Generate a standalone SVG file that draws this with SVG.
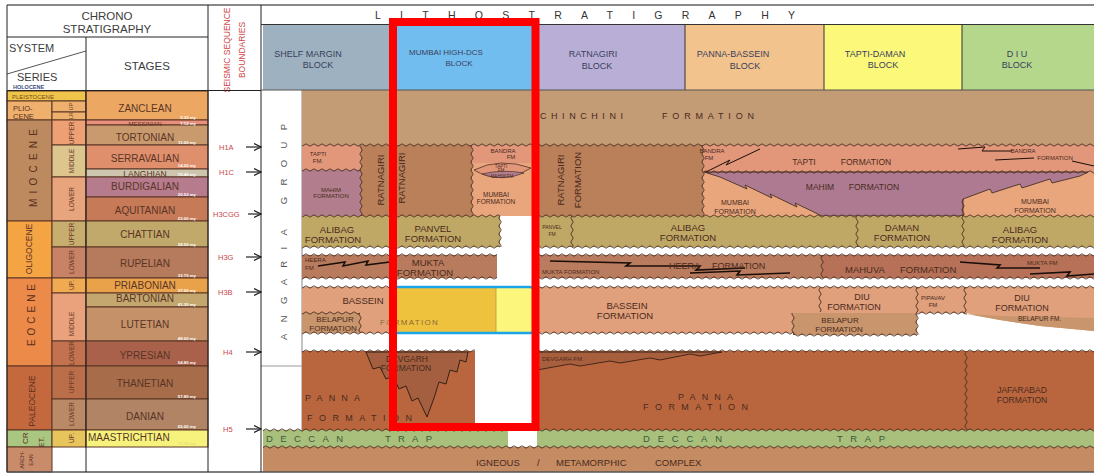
<svg xmlns="http://www.w3.org/2000/svg" width="1094" height="473" viewBox="0 0 1094 473">
<defs>
<style>
text{font-family:"Liberation Sans",Arial,sans-serif}
.hd{font-size:11.5px;fill:#3c3c3c;text-anchor:middle}
.se{font-size:6.5px;fill:#6b3c2a;text-anchor:middle}
.sy{font-size:9px;fill:#5a3020}
.stg{font-size:10px;fill:#5a3526;text-anchor:middle}
.age{font-size:4.3px;fill:#fff;text-anchor:end;font-weight:bold}
.sq{font-size:7.5px;fill:#c8474a}
.bh{font-size:9px;fill:#39405a;text-anchor:middle}
.fm{font-size:9.5px;fill:#4a2a1c;text-anchor:middle}
.fs{font-size:6px;fill:#4a2a1c;text-anchor:middle}
.ft{font-size:4.5px;fill:#4a2a1c;text-anchor:middle}
.sp{font-size:9px;fill:#4a2a1c}
.dc{font-size:9.5px;fill:#3b5a38}
.zz{fill:none;stroke:#1a0e08;stroke-width:1.6}
.cl{stroke:#5a3424;stroke-width:1}
.ln{stroke:#222;stroke-width:1}
.ar{stroke:#222;stroke-width:1.2;marker-end:url(#ar)}
</style>
<pattern id="wh" width="8" height="6" patternUnits="userSpaceOnUse"><path d="M0 3Q2 0.6 4 3T8 3" fill="none" stroke="#4a2e20" stroke-width="0.9"/></pattern>
<pattern id="wv" width="6" height="8" patternUnits="userSpaceOnUse"><path d="M3 0Q0.6 2 3 4T3 8" fill="none" stroke="#4a2e20" stroke-width="0.9"/></pattern>
<marker id="ar" markerWidth="8" markerHeight="8" refX="7" refY="4" orient="auto" markerUnits="userSpaceOnUse"><path d="M0 0.5L7 4L0 7.5" fill="none" stroke="#222" stroke-width="1.2"/></marker>
</defs>
<rect width="1094" height="473" fill="#fff"/>

<g id="chrono">
<text class="hd" x="107" y="20">CHRONO</text>
<text class="hd" x="107" y="33">STRATIGRAPHY</text>
<text x="9" y="52" style="font-size:11px;fill:#3c3c3c">SYSTEM</text>
<line x1="7" y1="74" x2="86" y2="51" stroke="#555"/>
<text x="17" y="81" style="font-size:11px;fill:#3c3c3c">SERIES</text>
<text x="13" y="89" style="font-size:5.5px;fill:#3a4a7a;font-weight:bold">HOLOCENE</text>
<text class="hd" x="147" y="70">STAGES</text>
<rect class="cl" x="7" y="91" width="79" height="10" fill="#efc44a"/>
<text x="12" y="98.5" style="font-size:6px;fill:#7a4a1a">PLEISTOCENE</text>
<rect class="cl" x="7" y="101" width="45" height="19" fill="#efb06e"/>
<text class="sy" x="13" y="111" style="font-size:7.5px">PLIO-</text>
<text class="sy" x="13" y="119" style="font-size:7.5px">CENE</text>
<rect class="cl" x="52" y="101" width="34" height="11" fill="#efb06e"/>
<rect class="cl" x="52" y="112" width="34" height="8" fill="#efb06e"/>
<text class="se" transform="translate(73,111) rotate(-90)" style="font-size:5.5px">LR  UP</text>
<rect class="cl" x="7" y="120" width="45" height="101" fill="#bc8a5e"/>
<text class="sy" transform="translate(37,207) rotate(-90)" textLength="78" lengthAdjust="spacing" style="font-size:10px">MIOCENE</text>
<rect class="cl" x="52" y="120" width="34" height="25" fill="#eca074"/>
<rect class="cl" x="52" y="145" width="34" height="32" fill="#dcc68e"/>
<rect class="cl" x="52" y="177" width="34" height="44" fill="#e8a47c"/>
<rect class="cl" x="7" y="221" width="45" height="57" fill="#f4a443"/>
<text class="sy" transform="translate(32,249) rotate(-90)" style="font-size:8.5px;text-anchor:middle">OLIGOCENE</text>
<rect class="cl" x="52" y="221" width="34" height="26" fill="#c7ad6e"/>
<rect class="cl" x="52" y="247" width="34" height="31" fill="#c88266"/>
<rect class="cl" x="7" y="278" width="45" height="88" fill="#ec8a4a"/>
<text class="sy" transform="translate(35,346) rotate(-90)" textLength="62" lengthAdjust="spacing" style="font-size:10px">EOCENE</text>
<rect class="cl" x="52" y="278" width="34" height="15" fill="#f0aa52"/>
<rect class="cl" x="52" y="293" width="34" height="48" fill="#e9a27c"/>
<rect class="cl" x="52" y="341" width="34" height="25" fill="#c2724f"/>
<rect class="cl" x="7" y="366" width="45" height="64" fill="#c4693d"/>
<text class="sy" transform="translate(35,401) rotate(-90)" style="font-size:8.5px;text-anchor:middle">PALEOCENE</text>
<rect class="cl" x="52" y="366" width="34" height="33" fill="#bb6e4a"/>
<rect class="cl" x="52" y="399" width="34" height="31" fill="#ba8a66"/>
<rect class="cl" x="7" y="430" width="45" height="17" fill="#aac781"/>
<text class="sy" transform="translate(28,444) rotate(-90)" style="font-size:8px">CR</text>
<text class="sy" transform="translate(44,447) rotate(-90)" style="font-size:7px">ET.</text>
<rect class="cl" x="52" y="430" width="34" height="17" fill="#e7c45c"/>
<rect class="cl" x="7" y="447" width="45" height="25" fill="#c98c6b"/>
<text class="sy" transform="translate(24,460) rotate(-90)" style="font-size:5.5px;text-anchor:middle">ARCH-</text>
<text class="sy" transform="translate(33,460) rotate(-90)" style="font-size:5.5px;text-anchor:middle">EAN</text>
<text class="se" transform="translate(74,133) rotate(-90)">UPPER</text>
<text class="se" transform="translate(74,161) rotate(-90)">MIDDLE</text>
<text class="se" transform="translate(74,199) rotate(-90)">LOWER</text>
<text class="se" transform="translate(74,234) rotate(-90)">UPPER</text>
<text class="se" transform="translate(74,262) rotate(-90)">LOWER</text>
<text class="se" transform="translate(74,285) rotate(-90)">UP.</text>
<text class="se" transform="translate(74,324) rotate(-90)">MIDDLE</text>
<text class="se" transform="translate(74,353) rotate(-90)">LOWER</text>
<text class="se" transform="translate(74,382) rotate(-90)">UPPER</text>
<text class="se" transform="translate(74,414) rotate(-90)">LOWER</text>
<text class="se" transform="translate(74,438) rotate(-90)">UP.</text>
<rect class="cl" x="86" y="91" width="122" height="29" fill="#eca763"/>
<rect class="cl" x="86" y="120" width="122" height="5" fill="#e98f7b"/>
<rect class="cl" x="86" y="125" width="122" height="20" fill="#c99a6e"/>
<rect class="cl" x="86" y="145" width="122" height="24" fill="#df8f6c"/>
<rect class="cl" x="86" y="169" width="122" height="8" fill="#cdc5ad"/>
<rect class="cl" x="86" y="177" width="122" height="20" fill="#b67b8c"/>
<rect class="cl" x="86" y="197" width="122" height="24" fill="#c67a58"/>
<rect class="cl" x="86" y="221" width="122" height="26" fill="#c0a96a"/>
<rect class="cl" x="86" y="247" width="122" height="31" fill="#b67a5c"/>
<rect class="cl" x="86" y="278" width="122" height="15" fill="#e9a24a"/>
<rect class="cl" x="86" y="293" width="122" height="14" fill="#c4a76e"/>
<rect class="cl" x="86" y="307" width="122" height="34" fill="#c49169"/>
<rect class="cl" x="86" y="341" width="122" height="25" fill="#a9614b"/>
<rect class="cl" x="86" y="366" width="122" height="33" fill="#a76c4a"/>
<rect class="cl" x="86" y="399" width="122" height="31" fill="#b08464"/>
<rect class="cl" x="86" y="430" width="122" height="17" fill="#f6f27c"/>
<text class="stg" x="145" y="111.5">ZANCLEAN</text>
<text class="stg" x="145" y="125.5" style="font-size:6px">MESSINIAN</text>
<text class="stg" x="145" y="140.5">TORTONIAN</text>
<text class="stg" x="145" y="161.5">SERRAVALIAN</text>
<text class="stg" x="145" y="177" style="font-size:8.5px">LANGHIAN</text>
<text class="stg" x="145" y="190">BURDIGALIAN</text>
<text class="stg" x="145" y="214">AQUITANIAN</text>
<text class="stg" x="145" y="237.5">CHATTIAN</text>
<text class="stg" x="145" y="266.5">RUPELIAN</text>
<text class="stg" x="145" y="288.5">PRIABONIAN</text>
<text class="stg" x="145" y="301.5">BARTONIAN</text>
<text class="stg" x="145" y="327.5">LUTETIAN</text>
<text class="stg" x="145" y="358.5">YPRESIAN</text>
<text class="stg" x="145" y="386.5">THANETIAN</text>
<text class="stg" x="145" y="420">DANIAN</text>
<text class="stg" x="88" y="441" style="text-anchor:start">MAASTRICHTIAN</text>
<text class="age" x="196" y="118.5">5.32 my</text>
<text class="age" x="196" y="124.5">7.12 my</text>
<text class="age" x="196" y="144">11.00 my</text>
<text class="age" x="196" y="167">14.00 my</text>
<text class="age" x="196" y="176">15.40 my</text>
<text class="age" x="196" y="196">20.52 my</text>
<text class="age" x="196" y="220">23.00 my</text>
<text class="age" x="196" y="246">28.50 my</text>
<text class="age" x="196" y="277">33.70 my</text>
<text class="age" x="196" y="292">37.00 my</text>
<text class="age" x="196" y="306">41.30 my</text>
<text class="age" x="196" y="340">48.00 my</text>
<text class="age" x="196" y="364">54.80 my</text>
<text class="age" x="196" y="398">57.80 my</text>
<text class="age" x="196" y="428">65.00 my</text>
<text class="age" x="196" y="445" style="fill:#e8e070">71.30 my</text>
</g>

<g id="seismic">
<text transform="translate(230,50) rotate(-90)" style="font-size:8.5px;fill:#d04545;text-anchor:middle">SEISMIC SEQUENCE</text>
<text transform="translate(245,50) rotate(-90)" style="font-size:8.5px;fill:#d04545;text-anchor:middle">BOUNDARIES</text>
<text class="sq" x="219" y="150">H1A</text>
<text class="sq" x="219" y="175">H1C</text>
<text class="sq" x="213" y="217">H3CGG</text>
<text class="sq" x="218" y="260">H3G</text>
<text class="sq" x="218" y="295">H3B</text>
<text class="sq" x="223" y="355">H4</text>
<text class="sq" x="223" y="432">H5</text>
</g>

<g id="connectors">
<line class="ar" x1="246" y1="147" x2="261" y2="147"/>
<line class="ar" x1="246" y1="172" x2="261" y2="172"/>
<line class="ar" x1="248" y1="214" x2="261" y2="214"/>
<line class="ar" x1="246" y1="257" x2="261" y2="257"/>
<line class="ar" x1="246" y1="292" x2="261" y2="292"/>
<line class="ar" x1="246" y1="352" x2="261" y2="352"/>
<line class="ar" x1="246" y1="429" x2="261" y2="429"/>
</g>

<g id="litho-header">
<text x="375" y="19" textLength="420" lengthAdjust="spacing" style="font-size:10.5px;fill:#333">LITHOSTRATIGRAPHY</text>
<rect x="263" y="25" width="134" height="65" fill="#9eb1c0"/>
<rect x="390" y="25" width="145" height="65" fill="#72bdf0"/>
<rect x="535" y="25" width="150" height="65" fill="#b9afd6"/>
<rect x="685" y="25" width="139" height="65" fill="#f3c38d"/>
<rect x="824" y="25" width="138" height="65" fill="#fbf87a"/>
<rect x="962" y="25" width="132" height="65" fill="#b4d78c"/>
<line x1="685" y1="25" x2="685" y2="90" stroke="#333"/>
<line x1="824" y1="25" x2="824" y2="90" stroke="#333"/>
<line x1="962" y1="25" x2="962" y2="90" stroke="#333"/>
<text class="bh" x="308" y="57">SHELF  MARGIN</text>
<text class="bh" x="318" y="68">BLOCK</text>
<text class="bh" x="446" y="55" style="font-size:8px">MUMBAI HIGH-DCS</text>
<text class="bh" x="459" y="66" style="font-size:8px">BLOCK</text>
<text class="bh" x="593" y="57">RATNAGIRI</text>
<text class="bh" x="597" y="69">BLOCK</text>
<text class="bh" x="733" y="57">PANNA-BASSEIN</text>
<text class="bh" x="745" y="69">BLOCK</text>
<text class="bh" x="875" y="57">TAPTI-DAMAN</text>
<text class="bh" x="883" y="68">BLOCK</text>
<text class="bh" x="1017" y="57">D I U</text>
<text class="bh" x="1017" y="68">BLOCK</text>
</g>

<g id="angaria">
<rect x="263" y="90" width="39" height="340" fill="#fff"/>
<line x1="302" y1="90" x2="302" y2="430" stroke="#888"/>
<line x1="261" y1="366" x2="302" y2="366" stroke="#999"/>
<text transform="translate(287,340) rotate(-90)" textLength="216" lengthAdjust="spacing" style="font-size:9.5px;fill:#555">ANGARIA GROUP</text>
</g>

<g id="formations">
<rect x="302" y="90" width="792" height="55" fill="#c39b75"/>
<rect x="302" y="145" width="59" height="25" fill="#e2977b"/>
<rect x="302" y="170" width="59" height="46" fill="#b27e8e"/>
<rect x="361" y="145" width="111" height="71" fill="#b9805a"/>
<rect x="472" y="145" width="65" height="71" fill="#e9a67c"/>
<rect x="472" y="145" width="65" height="18" fill="#e2977b"/>
<rect x="537" y="145" width="166" height="71" fill="#b9805a"/>
<rect x="703" y="145" width="391" height="27" fill="#e2977b"/>
<rect x="703" y="172" width="391" height="44" fill="#e9a67c"/>
<path d="M704,172 L1088,172 L1080,176 L1052,183 L1050,179 L1022,188 L1020,184 L992,193 L990,189 L963,199 L963,216 L822,216 L795,203 L797,207 L770,194 L772,198 L745,185 L747,189 L720,177 Z" fill="#ad7a92" stroke="#3a2418" stroke-width="0.8"/>
<path d="M474,170 Q500,157 531,168 Q500,186 474,170 Z" fill="#e2977b" stroke="#3a2418" stroke-width="0.7"/>
<path d="M482,174 Q502,169 524,173 Q502,182 482,174 Z" fill="#b27e8e" stroke="#3a2418" stroke-width="0.6"/>
<rect x="302" y="216" width="198" height="31" fill="#bfa866"/>
<rect x="537" y="216" width="557" height="31" fill="#bfa866"/>
<rect x="302" y="255" width="195" height="23" fill="#b97b5d"/>
<rect x="537" y="255" width="285" height="23" fill="#ba7c5f"/>
<rect x="822" y="255" width="272" height="23" fill="#b67158"/>
<rect x="302" y="287" width="91" height="46" fill="#e0a07c"/>
<rect x="537" y="287" width="557" height="46" fill="#e0a07c"/>
<rect x="302" y="313" width="58" height="20" fill="#c8956d"/>
<path d="M917,313 L966,313 L1000,320 L1040,326 L1094,331 L1094,351 L917,351 Z" fill="#fff"/>
<rect x="793" y="313" width="124" height="22" fill="#c8956d"/>
<path d="M966,314 L1000,316 L1094,318 L1094,331 L1040,326 L1000,320 Z" fill="#c8956d"/>
<rect x="302" y="351" width="173" height="79" fill="#b9663f"/>
<rect x="537" y="351" width="557" height="79" fill="#b9663f"/>
<path d="M366,352 L468,352 L466,362 L460,360 L457,372 L450,370 L446,384 L439,382 L434,398 L427,417 L418,398 L412,401 L406,386 L399,389 L393,376 L386,379 L380,367 L373,369 Z" fill="#a35f40" stroke="#2a1810" stroke-width="0.9"/>
<path d="M537,352 L722,352 L700,356 L690,354 L660,360 L650,358 L620,363 L610,361 L580,366 L570,364 L537,370 Z" fill="#a85f3e" stroke="#2a1810" stroke-width="0.8"/>
<rect x="263" y="430" width="245" height="17" fill="#a8c07c"/>
<rect x="537" y="430" width="557" height="17" fill="#a8c07c"/>
<rect x="263" y="447" width="831" height="25" fill="#c58b63"/>

<rect x="302" y="0" width="792" height="6" fill="url(#wh)" transform="translate(0,142)"/>
<rect x="302" y="0" width="59" height="6" fill="url(#wh)" transform="translate(0,167)"/>
<rect x="703" y="0" width="391" height="6" fill="url(#wh)" transform="translate(0,169)"/>
<rect x="302" y="0" width="198" height="6" fill="url(#wh)" transform="translate(0,213)"/>
<rect x="537" y="0" width="557" height="6" fill="url(#wh)" transform="translate(0,213)"/>
<rect x="302" y="0" width="198" height="6" fill="url(#wh)" transform="translate(0,244)"/>
<rect x="537" y="0" width="557" height="6" fill="url(#wh)" transform="translate(0,244)"/>
<rect x="302" y="0" width="195" height="6" fill="url(#wh)" transform="translate(0,252)"/>
<rect x="537" y="0" width="557" height="6" fill="url(#wh)" transform="translate(0,252)"/>
<rect x="302" y="0" width="195" height="6" fill="url(#wh)" transform="translate(0,275)"/>
<rect x="537" y="0" width="557" height="6" fill="url(#wh)" transform="translate(0,275)"/>
<rect x="302" y="0" width="91" height="6" fill="url(#wh)" transform="translate(0,284)"/>
<rect x="537" y="0" width="557" height="6" fill="url(#wh)" transform="translate(0,284)"/>
<rect x="302" y="0" width="58" height="6" fill="url(#wh)" transform="translate(0,310)"/>
<rect x="302" y="0" width="91" height="6" fill="url(#wh)" transform="translate(0,330)"/>
<rect x="537" y="0" width="256" height="6" fill="url(#wh)" transform="translate(0,330)"/>
<rect x="793" y="0" width="124" height="6" fill="url(#wh)" transform="translate(0,332)"/>
<rect x="917" y="0" width="50" height="6" fill="url(#wh)" transform="translate(0,310)"/>
<rect x="302" y="0" width="173" height="6" fill="url(#wh)" transform="translate(0,348)"/>
<rect x="537" y="0" width="557" height="6" fill="url(#wh)" transform="translate(0,348)"/>
<rect x="263" y="0" width="245" height="6" fill="url(#wh)" transform="translate(0,427)"/>
<rect x="537" y="0" width="557" height="6" fill="url(#wh)" transform="translate(0,427)"/>
<rect x="263" y="0" width="831" height="6" fill="url(#wh)" transform="translate(0,444)"/>
<rect x="0" y="145" width="6" height="71" fill="url(#wv)" transform="translate(358,0)"/>
<rect x="0" y="145" width="6" height="71" fill="url(#wv)" transform="translate(469,0)"/>
<rect x="0" y="145" width="6" height="71" fill="url(#wv)" transform="translate(700,0)"/>
<rect x="0" y="216" width="6" height="31" fill="url(#wv)" transform="translate(497,0)"/>
<rect x="0" y="216" width="6" height="31" fill="url(#wv)" transform="translate(569,0)"/>
<rect x="0" y="216" width="6" height="31" fill="url(#wv)" transform="translate(854,0)"/>
<rect x="0" y="199" width="6" height="48" fill="url(#wv)" transform="translate(960,0)"/>
<rect x="0" y="255" width="6" height="23" fill="url(#wv)" transform="translate(819,0)"/>
<rect x="0" y="287" width="6" height="25" fill="url(#wv)" transform="translate(817,0)"/>
<rect x="0" y="287" width="6" height="26" fill="url(#wv)" transform="translate(914,0)"/>
<rect x="0" y="313" width="6" height="22" fill="url(#wv)" transform="translate(914,0)"/>
<rect x="0" y="313" width="6" height="22" fill="url(#wv)" transform="translate(790,0)"/>
<rect x="0" y="287" width="6" height="27" fill="url(#wv)" transform="translate(962,0)"/>
<rect x="0" y="313" width="6" height="20" fill="url(#wv)" transform="translate(357,0)"/>
<rect x="0" y="353" width="6" height="77" fill="url(#wv)" transform="translate(963,0)"/>
<path class="zz" d="M318,266 L345,262 L343,266 L368,261 L366,265 L390,262"/>
<path class="zz" d="M550,261 L630,263 L626,266 L700,266 L696,270 L745,268"/>
<path class="zz" d="M690,273 L740,271 L737,275 L790,273"/>
<path class="zz" d="M960,262 L1000,265 L997,268 L1040,268 M1030,274 L1070,272 L1067,276 L1094,274"/>
<path class="zz" d="M706,172 L730,160 L726,165 L760,149" style="stroke-width:1"/>
<path class="zz" d="M958,149 L985,147 L982,151 L1012,151 M995,160 L1034,158 M1072,161 L1094,166" style="stroke-width:1"/>

<text class="sp" x="540" y="119" textLength="83" lengthAdjust="spacing">CHINCHINI</text>
<text class="sp" x="662" y="119" textLength="92" lengthAdjust="spacing">FORMATION</text>
<text class="fs" x="318" y="156">TAPTI</text>
<text class="fs" x="318" y="163">FM.</text>
<text class="fs" x="331" y="192">MAHIM</text>
<text class="fs" x="331" y="198">FORMATION</text>
<text class="fm" transform="translate(384,180) rotate(-90)">RATNAGIRI</text>
<text class="fm" transform="translate(405,178) rotate(-90)">RATNAGIRI</text>
<text class="fs" x="503" y="153">BANDRA</text>
<text class="fs" x="511" y="159">FM</text>
<text class="ft" x="501" y="168">TAPTI</text>
<text class="ft" x="501" y="172">FM</text>
<text class="ft" x="502" y="177.5">MAHIM FM</text>
<text class="fs" x="496" y="197" style="font-size:6.5px">MUMBAI</text>
<text class="fs" x="496" y="204" style="font-size:6.5px">FORMATION</text>
<text class="fm" transform="translate(564,180) rotate(-90)">RATNAGIRI</text>
<text class="fm" transform="translate(581,180) rotate(-90)">FORMATION</text>
<text class="fs" x="712" y="153">BANDRA</text>
<text class="fs" x="709" y="160">FM</text>
<text class="fm" x="804" y="165" style="font-size:8.5px">TAPTI</text>
<text class="fm" x="866" y="165" style="font-size:8.5px">FORMATION</text>
<text class="fm" x="820" y="190" style="font-size:8.5px">MAHIM</text>
<text class="fm" x="874" y="190" style="font-size:8.5px">FORMATION</text>
<text class="fm" x="735" y="205" style="font-size:7px">MUMBAI</text>
<text class="fm" x="735" y="214" style="font-size:7px">FORMATION</text>
<text class="fm" x="1035" y="204" style="font-size:7px">MUMBAI</text>
<text class="fm" x="1035" y="213" style="font-size:7px">FORMATION</text>
<text class="fs" x="1023" y="153">BANDRA</text>
<text class="fs" x="1055" y="160">FORMATION</text>
<text class="fm" x="337" y="233">ALIBAG</text>
<text class="fm" x="333" y="243">FORMATION</text>
<text class="fm" x="433" y="232">PANVEL</text>
<text class="fm" x="433" y="242">FORMATION</text>
<text class="fs" x="552" y="229" style="font-size:5px">PANVEL</text>
<text class="fs" x="552" y="236" style="font-size:5px">FM</text>
<text class="fm" x="688" y="231">ALIBAG</text>
<text class="fm" x="688" y="241">FORMATION</text>
<text class="fm" x="902" y="231">DAMAN</text>
<text class="fm" x="902" y="241">FORMATION</text>
<text class="fm" x="1020" y="233">ALIBAG</text>
<text class="fm" x="1020" y="243">FORMATION</text>
<text class="fs" x="305" y="262" style="text-anchor:start">HEERA</text>
<text class="fs" x="305" y="270" style="text-anchor:start">FM</text>
<text class="fm" x="428" y="266">MUKTA</text>
<text class="fm" x="425" y="276">FORMATION</text>
<text class="fs" x="542" y="274" style="text-anchor:start">MUKTA  FORMATION</text>
<text class="fm" x="669" y="269" style="text-anchor:start;font-size:9px">HEERA</text>
<text class="fm" x="712" y="269" style="text-anchor:start;font-size:9px">FORMATION</text>
<text class="fm" x="845" y="273" style="text-anchor:start">MAHUVA</text>
<text class="fm" x="900" y="273" style="text-anchor:start">FORMATION</text>
<text class="fs" x="1027" y="265" style="text-anchor:start">MUKTA   FM</text>
<text class="fm" x="363" y="304">BASSEIN</text>
<text class="fm" x="335" y="322" style="font-size:8px">BELAPUR</text>
<text class="fm" x="333" y="331" style="font-size:8px">FORMATION</text>
<text class="fm" x="627" y="308.5">BASSEIN</text>
<text class="fm" x="625" y="318.5">FORMATION</text>
<text class="fm" x="862" y="300" style="font-size:9px">DIU</text>
<text class="fm" x="854" y="310" style="font-size:9px">FORMATION</text>
<text class="fs" x="933" y="300">PIPAVAV</text>
<text class="fs" x="933" y="307">FM</text>
<text class="fm" x="1022" y="301" style="font-size:9px">DIU</text>
<text class="fm" x="1022" y="311" style="font-size:9px">FORMATION</text>
<text class="fm" x="840" y="323" style="font-size:8px">BELAPUR</text>
<text class="fm" x="839" y="332" style="font-size:8px">FORMATION</text>
<text class="fs" x="1018" y="321" style="text-anchor:start;font-size:6.5px">BELAPUR  FM.</text>
<text class="fm" x="407" y="362" style="font-size:8.5px">DEVGARH</text>
<text class="fm" x="406" y="371" style="font-size:8.5px">FORMATION</text>
<text class="sp" x="305" y="401" textLength="55" lengthAdjust="spacing">PANNA</text>
<text class="sp" x="307" y="421" textLength="105" lengthAdjust="spacing">FORMATION</text>
<text class="fs" x="542" y="361" style="text-anchor:start">DEVGARH FM.</text>
<text class="sp" x="678" y="400" textLength="55" lengthAdjust="spacing">PANNA</text>
<text class="sp" x="643" y="410" textLength="105" lengthAdjust="spacing">FORMATION</text>
<text class="fm" x="1022" y="393" style="font-size:8.5px">JAFARABAD</text>
<text class="fm" x="1022" y="403" style="font-size:8.5px">FORMATION</text>
<text class="dc" x="266" y="442" textLength="77" lengthAdjust="spacing">DECCAN</text>
<text class="dc" x="385" y="442" textLength="47" lengthAdjust="spacing">TRAP</text>
<text class="dc" x="643" y="442" textLength="79" lengthAdjust="spacing">DECCAN</text>
<text class="dc" x="837" y="442" textLength="48" lengthAdjust="spacing">TRAP</text>
<text class="sp" x="476" y="466" style="font-size:9.5px">IGNEOUS</text>
<text class="sp" x="537" y="466" style="font-size:9.5px">/</text>
<text class="sp" x="556" y="466" style="font-size:9.5px">METAMORPHIC</text>
<text class="sp" x="655" y="466" style="font-size:9.5px">COMPLEX</text>
</g>

<g id="frame">
<line x1="7" y1="5" x2="1094" y2="5" stroke="#888" stroke-width="2"/>
<line x1="7" y1="472" x2="1094" y2="472" stroke="#555" stroke-width="1.5"/>
<line class="ln" x1="7" y1="5" x2="7" y2="472"/>
<line class="ln" x1="7" y1="37" x2="208" y2="37"/>
<line class="ln" x1="7" y1="90.5" x2="261" y2="90.5"/>
<line class="ln" x1="86" y1="37" x2="86" y2="472"/>
<line class="ln" x1="208" y1="5" x2="208" y2="472"/>
<line class="ln" x1="261" y1="5" x2="261" y2="472"/>
<line x1="261" y1="24.5" x2="1094" y2="24.5" stroke="#333"/>
<line x1="261" y1="90" x2="1094" y2="90" stroke="#555"/>
</g>

<g id="highlight">
<rect x="393" y="288" width="4" height="44" fill="#e8781e"/>
<rect x="397" y="288" width="99" height="44" fill="#efc23d"/>
<rect x="496" y="288" width="37" height="44" fill="#fdf67c"/>
<line x1="496" y1="288" x2="496" y2="332" stroke="#a89a40" stroke-width="0.8"/>
<text x="380" y="325" style="font-size:8px;fill:#8a6a3a;letter-spacing:1.3px">FORMATION</text>
<rect x="392" y="287" width="142" height="46" rx="4" fill="none" stroke="#1aa6e6" stroke-width="2.5"/>
<rect x="393" y="22" width="142.5" height="405" fill="none" stroke="#ff0000" stroke-width="8"/>
</g>
</svg>
